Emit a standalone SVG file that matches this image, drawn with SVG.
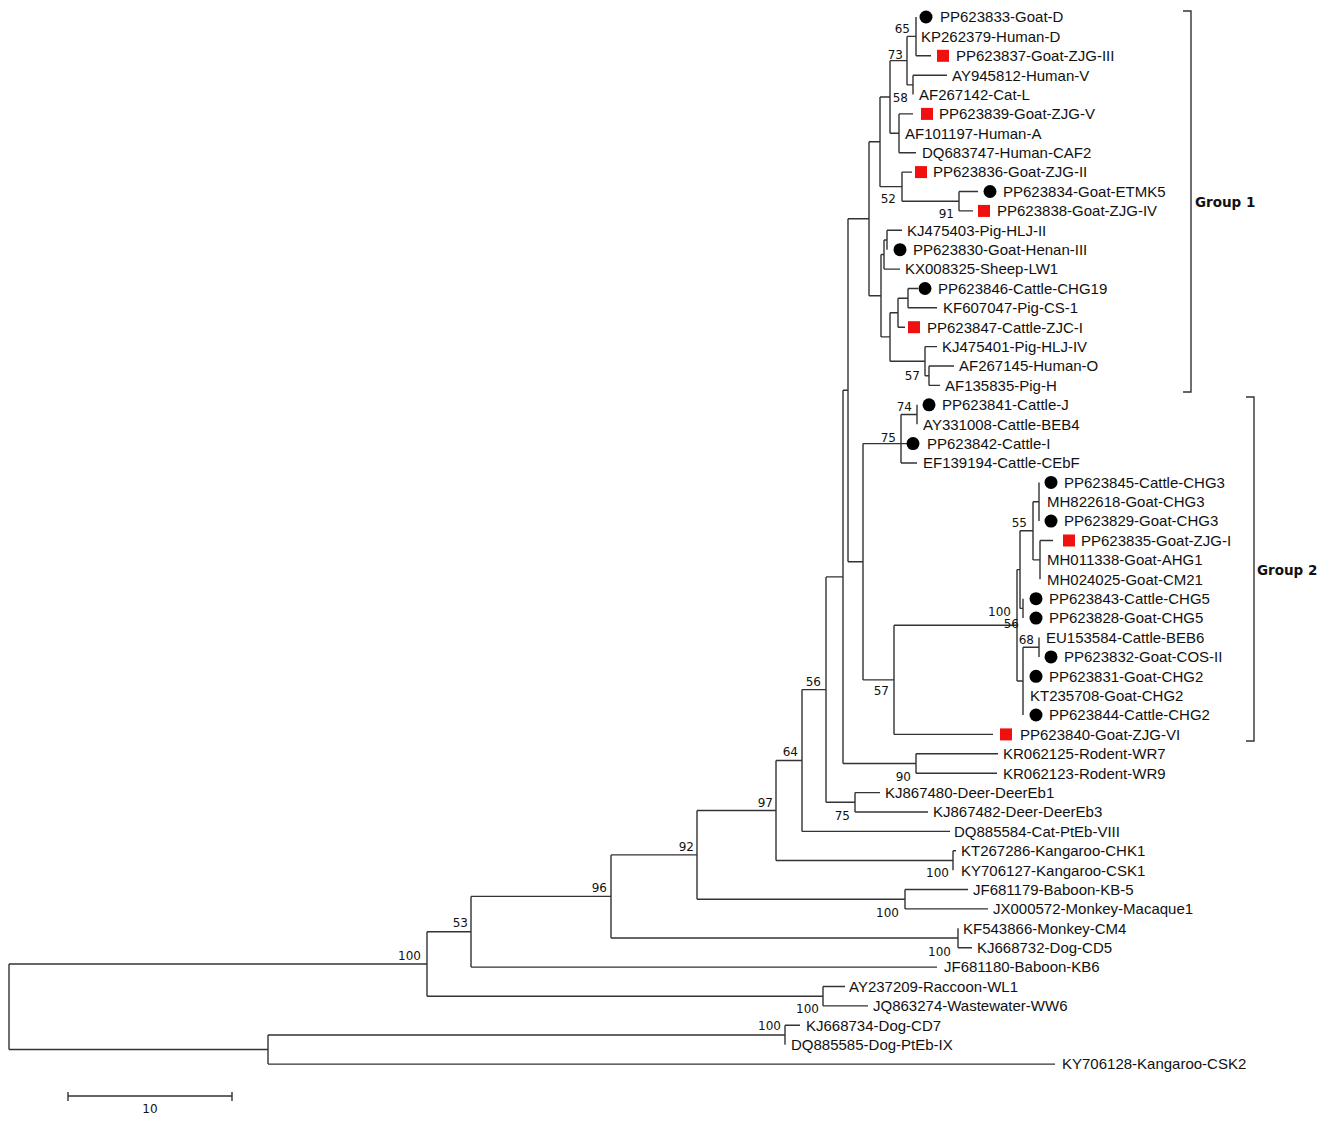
<svg xmlns="http://www.w3.org/2000/svg" width="1325" height="1123" viewBox="0 0 1325 1123">
<style>
.lf text{font-family:"Liberation Sans",Arial,sans-serif;font-size:15px;fill:#111}
.bs text{font-family:"DejaVu Sans",Verdana,sans-serif;font-size:12px;fill:#111;text-anchor:end}
.br path{fill:none;stroke:#333;stroke-width:1.4}
.dot{fill:#000}
.sq{fill:#f01010}
.grp{font-family:"DejaVu Sans",Verdana,sans-serif;font-size:13.5px;font-weight:bold;fill:#111}
</style>
<rect width="1325" height="1123" fill="#fff"/>
<g id="connectors" class="br">
<path d="M916 17V55.8M916 55.8H931"/>
<path d="M913 75.2V94.6M913 75.2H947"/>
<path d="M907 36.4V84.9M907 36.4H916M907 84.9H913"/>
<path d="M899 113.9V152.7M899 113.9H913M899 152.7H916"/>
<path d="M890 60.65V133.3M890 60.65H907M890 133.3H899"/>
<path d="M959 191.5V210.9M959 191.5H978M959 210.9H973"/>
<path d="M902 172.1V201.2M902 172.1H912M902 201.2H959"/>
<path d="M880 97V186.65M880 97H890M880 186.65H902"/>
<path d="M887 230.3V249.7M887 230.3H902"/>
<path d="M884 240V269.1M884 240H887M884 269.1H900"/>
<path d="M908 288.5V307.8M908 288.5H918M908 307.8H937"/>
<path d="M898 298.2V327.2M898 298.2H908M898 327.2H905"/>
<path d="M929 366V385.4M929 366H954M929 385.4H940"/>
<path d="M925 346.6V375.7M925 346.6H937M925 375.7H929"/>
<path d="M890 312.7V361.2M890 312.7H898M890 361.2H925"/>
<path d="M881 254.5V336.9M881 254.5H884M881 336.9H890"/>
<path d="M869 141.8V295.7M869 141.8H880M869 295.7H881"/>
<path d="M917 404.8V424.2"/>
<path d="M901 414.5V463M901 414.5H917M901 443.6H907M901 463H917"/>
<path d="M863 443.6V679.9M863 443.6H901M863 679.9H894"/>
<path d="M1039 482.4V521.1"/>
<path d="M1040 540.5V579.3M1040 540.5H1053"/>
<path d="M1033 501.7V559.9M1033 501.7H1039M1033 559.9H1040"/>
<path d="M1023 598.7V618.1"/>
<path d="M1020 530.8V608.4M1020 530.8H1033M1020 608.4H1023"/>
<path d="M1039 637.5V656.9"/>
<path d="M1023 647.2V715M1023 647.2H1039"/>
<path d="M1017 569.6V681M1017 569.6H1020M1017 681H1023"/>
<path d="M894 625.3V734.4M894 625.3H1017M894 734.4H993"/>
<path d="M848 218.8V561.75M848 218.8H869M848 561.75H863"/>
<path d="M916 753.8V773.2M916 753.8H998M916 773.2H997"/>
<path d="M843 390.3V763.5M843 390.3H848M843 763.5H916"/>
<path d="M855 792.6V812M855 792.6H880M855 812H928"/>
<path d="M826 576.9V802.3M826 576.9H843M826 802.3H855"/>
<path d="M802 689.6V831.4M802 689.6H826M802 831.4H950"/>
<path d="M953 850.8V870.2M953 850.8H956"/>
<path d="M776 760.5V860.5M776 760.5H802M776 860.5H953"/>
<path d="M905 889.5V908.9M905 889.5H968M905 908.9H988"/>
<path d="M697 810.5V899.2M697 810.5H776M697 899.2H905"/>
<path d="M958 928.3V947.7M958 947.7H972"/>
<path d="M611 854.9V938M611 854.9H697M611 938H958"/>
<path d="M471 896.4V967.1M471 896.4H611M471 967.1H937"/>
<path d="M823 986.5V1005.9M823 986.5H845M823 1005.9H868"/>
<path d="M427 931.8V996.2M427 931.8H471M427 996.2H823"/>
<path d="M785 1025.3V1044.7M785 1025.3H800"/>
<path d="M268 1035V1064.1M268 1035H785M268 1064.1H1055"/>
<path d="M9 964V1049.5M9 964H427M9 1049.5H268"/>
</g>
<g id="support" class="bs">
<text x="910" y="32.5">65</text>
<text x="903" y="58.5">73</text>
<text x="908" y="102">58</text>
<text x="896" y="203">52</text>
<text x="954" y="218">91</text>
<text x="920" y="380">57</text>
<text x="912" y="411">74</text>
<text x="896" y="442">75</text>
<text x="1027" y="527">55</text>
<text x="1011" y="616">100</text>
<text x="1019" y="628">56</text>
<text x="1034" y="644">68</text>
<text x="889" y="695">57</text>
<text x="911" y="781">90</text>
<text x="821" y="686">56</text>
<text x="798" y="756">64</text>
<text x="850" y="820">75</text>
<text x="773" y="807">97</text>
<text x="949" y="877">100</text>
<text x="694" y="851">92</text>
<text x="899" y="917">100</text>
<text x="607" y="892">96</text>
<text x="951" y="956">100</text>
<text x="468" y="927">53</text>
<text x="421" y="960">100</text>
<text x="819" y="1013">100</text>
<text x="781" y="1030">100</text>
</g>
<g class="lf">
<g id="n1"><circle class="dot" cx="926" cy="17" r="6.5"/><text x="940" y="22.3">PP623833-Goat-D</text></g>
<g id="n2"><text x="921" y="41.7">KP262379-Human-D</text></g>
<g id="n3"><rect class="sq" x="937" y="49.8" width="12" height="12"/><text x="956" y="61.1">PP623837-Goat-ZJG-III</text></g>
<g id="n4"><text x="952" y="80.5">AY945812-Human-V</text></g>
<g id="n5"><text x="919" y="99.9">AF267142-Cat-L</text></g>
<g id="n6"><rect class="sq" x="921" y="107.9" width="12" height="12"/><text x="939" y="119.2">PP623839-Goat-ZJG-V</text></g>
<g id="n7"><text x="905" y="138.6">AF101197-Human-A</text></g>
<g id="n8"><text x="922" y="158">DQ683747-Human-CAF2</text></g>
<g id="n9"><rect class="sq" x="915" y="166.1" width="12" height="12"/><text x="933" y="177.4">PP623836-Goat-ZJG-II</text></g>
<g id="n10"><circle class="dot" cx="990" cy="191.5" r="6.5"/><text x="1003" y="196.8">PP623834-Goat-ETMK5</text></g>
<g id="n11"><rect class="sq" x="978" y="204.9" width="12" height="12"/><text x="997" y="216.2">PP623838-Goat-ZJG-IV</text></g>
<g id="n12"><text x="907" y="235.6">KJ475403-Pig-HLJ-II</text></g>
<g id="n13"><circle class="dot" cx="900" cy="249.7" r="6.5"/><text x="913" y="255">PP623830-Goat-Henan-III</text></g>
<g id="n14"><text x="905" y="274.4">KX008325-Sheep-LW1</text></g>
<g id="n15"><circle class="dot" cx="925" cy="288.5" r="6.5"/><text x="938" y="293.8">PP623846-Cattle-CHG19</text></g>
<g id="n16"><text x="943" y="313.1">KF607047-Pig-CS-1</text></g>
<g id="n17"><rect class="sq" x="908" y="321.2" width="12" height="12"/><text x="927" y="332.5">PP623847-Cattle-ZJC-I</text></g>
<g id="n18"><text x="942" y="351.9">KJ475401-Pig-HLJ-IV</text></g>
<g id="n19"><text x="959" y="371.3">AF267145-Human-O</text></g>
<g id="n20"><text x="945" y="390.7">AF135835-Pig-H</text></g>
<g id="n21"><circle class="dot" cx="929" cy="404.8" r="6.5"/><text x="942" y="410.1">PP623841-Cattle-J</text></g>
<g id="n22"><text x="923" y="429.5">AY331008-Cattle-BEB4</text></g>
<g id="n23"><circle class="dot" cx="913" cy="443.6" r="6.5"/><text x="927" y="448.9">PP623842-Cattle-I</text></g>
<g id="n24"><text x="923" y="468.3">EF139194-Cattle-CEbF</text></g>
<g id="n25"><circle class="dot" cx="1051" cy="482.4" r="6.5"/><text x="1064" y="487.7">PP623845-Cattle-CHG3</text></g>
<g id="n26"><text x="1047" y="507">MH822618-Goat-CHG3</text></g>
<g id="n27"><circle class="dot" cx="1051" cy="521.1" r="6.5"/><text x="1064" y="526.4">PP623829-Goat-CHG3</text></g>
<g id="n28"><rect class="sq" x="1063" y="534.5" width="12" height="12"/><text x="1081" y="545.8">PP623835-Goat-ZJG-I</text></g>
<g id="n29"><text x="1047" y="565.2">MH011338-Goat-AHG1</text></g>
<g id="n30"><text x="1047" y="584.6">MH024025-Goat-CM21</text></g>
<g id="n31"><circle class="dot" cx="1036" cy="598.7" r="6.5"/><text x="1049" y="604">PP623843-Cattle-CHG5</text></g>
<g id="n32"><circle class="dot" cx="1036" cy="618.1" r="6.5"/><text x="1049" y="623.4">PP623828-Goat-CHG5</text></g>
<g id="n33"><text x="1046" y="642.8">EU153584-Cattle-BEB6</text></g>
<g id="n34"><circle class="dot" cx="1051" cy="656.9" r="6.5"/><text x="1064" y="662.2">PP623832-Goat-COS-II</text></g>
<g id="n35"><circle class="dot" cx="1036" cy="676.3" r="6.5"/><text x="1049" y="681.6">PP623831-Goat-CHG2</text></g>
<g id="n36"><text x="1030" y="700.9">KT235708-Goat-CHG2</text></g>
<g id="n37"><circle class="dot" cx="1036" cy="715" r="6.5"/><text x="1049" y="720.3">PP623844-Cattle-CHG2</text></g>
<g id="n38"><rect class="sq" x="1000" y="728.4" width="12" height="12"/><text x="1020" y="739.7">PP623840-Goat-ZJG-VI</text></g>
<g id="n39"><text x="1003" y="759.1">KR062125-Rodent-WR7</text></g>
<g id="n40"><text x="1003" y="778.5">KR062123-Rodent-WR9</text></g>
<g id="n41"><text x="885" y="797.9">KJ867480-Deer-DeerEb1</text></g>
<g id="n42"><text x="933" y="817.3">KJ867482-Deer-DeerEb3</text></g>
<g id="n43"><text x="954" y="836.7">DQ885584-Cat-PtEb-VIII</text></g>
<g id="n44"><text x="961" y="856.1">KT267286-Kangaroo-CHK1</text></g>
<g id="n45"><text x="961" y="875.5">KY706127-Kangaroo-CSK1</text></g>
<g id="n46"><text x="973" y="894.8">JF681179-Baboon-KB-5</text></g>
<g id="n47"><text x="993" y="914.2">JX000572-Monkey-Macaque1</text></g>
<g id="n48"><text x="963" y="933.6">KF543866-Monkey-CM4</text></g>
<g id="n49"><text x="977" y="953">KJ668732-Dog-CD5</text></g>
<g id="n50"><text x="944" y="972.4">JF681180-Baboon-KB6</text></g>
<g id="n51"><text x="849" y="991.8">AY237209-Raccoon-WL1</text></g>
<g id="n52"><text x="873" y="1011.2">JQ863274-Wastewater-WW6</text></g>
<g id="n53"><text x="806" y="1030.6">KJ668734-Dog-CD7</text></g>
<g id="n54"><text x="791" y="1050">DQ885585-Dog-PtEb-IX</text></g>
<g id="n55"><text x="1062" y="1069.4">KY706128-Kangaroo-CSK2</text></g>
</g>
<g id="group1">
<path d="M1183 11H1191V392H1183" fill="none" stroke="#333" stroke-width="1.4"/>
<text class="grp" x="1195" y="207">Group 1</text>
</g>
<g id="group2">
<path d="M1246 397H1254V741H1246" fill="none" stroke="#333" stroke-width="1.4"/>
<text class="grp" x="1257" y="575">Group 2</text>
</g>
<g id="scalebar">
<path d="M68 1096H232M68 1092V1101M232 1092V1101" fill="none" stroke="#333" stroke-width="1.4"/>
<text x="150" y="1113" text-anchor="middle" style="font-family:'DejaVu Sans',Verdana,sans-serif;font-size:12px;fill:#111">10</text>
</g>
</svg>
